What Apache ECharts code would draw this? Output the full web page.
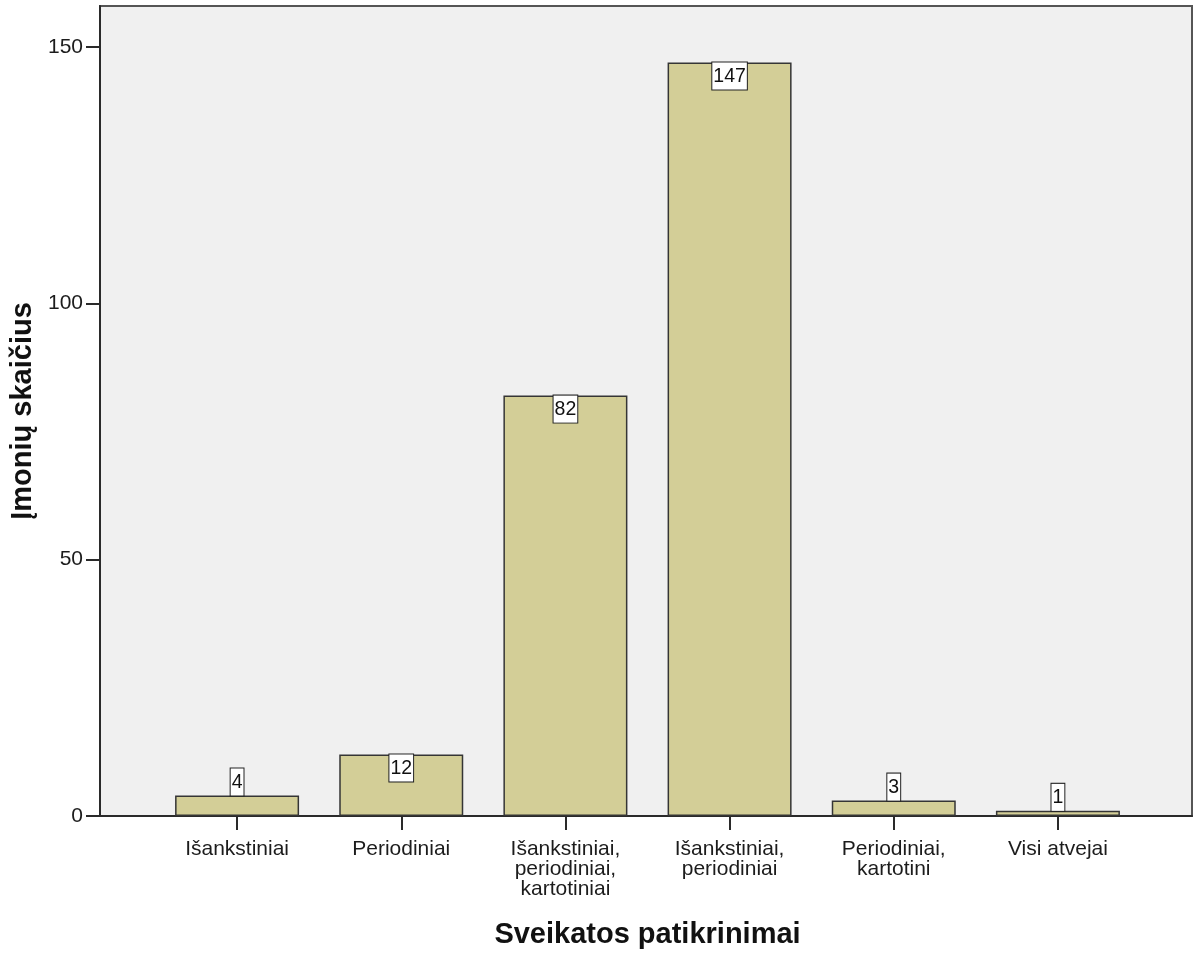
<!DOCTYPE html>
<html>
<head>
<meta charset="utf-8">
<script src="https://cdn.jsdelivr.net/npm/echarts@6/dist/echarts.min.js"></script>
<style>
  html, body { margin: 0; padding: 0; background: #ffffff; }
  #chart { width: 1201px; height: 956px; }
</style>
</head>
<body>
<div id="chart"></div>
<script>
// Health check types and number of companies
const categories = [
  'Išankstiniai',
  'Periodiniai',
  'Išankstiniai,\nperiodiniai,\nkartotiniai',
  'Išankstiniai,\nperiodiniai',
  'Periodiniai,\nkartotini',
  'Visi atvejai'
];
const counts = [4, 12, 82, 147, 3, 1];
const yTicks = [0, 50, 100, 150];
const xTitle = 'Sveikatos patikrinimai';
const yTitle = 'Įmonių skaičius';

const FONT = '"Liberation Sans", Arial, sans-serif';
const Y_MAX = 158;

const chart = echarts.init(document.getElementById('chart'), null, { renderer: 'canvas' });

// tall bars carry their label inside the top edge, short ones just above it
const barData = counts.map(v => ({
  value: v,
  label: { position: v >= 10 ? 'insideTop' : 'top' }
}));

chart.setOption({
  animation: false,
  backgroundColor: '#ffffff',
  grid: [
    // frame, background and the value axis
    { left: 100, right: 9, top: 6, bottom: 140, show: true,
      backgroundColor: '#f0f0f0', borderColor: '#555555', borderWidth: 2 },
    // category band holding the bars
    { left: 155, right: 61, top: 6, bottom: 140, show: false }
  ],
  xAxis: [
    { gridIndex: 0, type: 'value', min: 0, max: 1,
      axisLine: { show: true, onZero: false, lineStyle: { color: '#2a2a2a', width: 2 } },
      axisTick: { show: false }, axisLabel: { show: false }, splitLine: { show: false } },
    { gridIndex: 1, type: 'category', data: categories,
      axisLine: { show: false },
      axisTick: { show: true, alignWithLabel: true, length: 14, inside: false,
        lineStyle: { color: '#2a2a2a', width: 2 } },
      axisLabel: { interval: 0, margin: 23, fontFamily: FONT, fontSize: 21,
        color: '#1c1c1c', lineHeight: 20 },
      name: xTitle, nameLocation: 'middle', nameGap: 104,
      nameTextStyle: { fontFamily: FONT, fontSize: 29, fontWeight: 'bold', color: '#111111' }
    }
  ],
  yAxis: [
    { gridIndex: 0, type: 'value', min: 0, max: Y_MAX,
      axisLine: { show: true, onZero: false, lineStyle: { color: '#2a2a2a', width: 2 } },
      axisTick: { show: true, length: 14, customValues: yTicks,
        lineStyle: { color: '#2a2a2a', width: 2 } },
      axisLabel: { customValues: yTicks, margin: 17, fontFamily: FONT, fontSize: 21,
        color: '#1c1c1c' },
      splitLine: { show: false },
      name: yTitle, nameLocation: 'middle', nameRotate: 90, nameGap: 58,
      nameTextStyle: { fontFamily: FONT, fontSize: 29, fontWeight: 'bold', color: '#111111' }
    },
    { gridIndex: 1, type: 'value', min: 0, max: Y_MAX, show: false }
  ],
  series: [{
    type: 'bar',
    xAxisIndex: 1,
    yAxisIndex: 1,
    data: barData,
    barWidth: 124,
    itemStyle: { color: '#d3ce97', borderColor: '#353535', borderWidth: 1.5 },
    label: {
      show: true,
      distance: 0,
      fontFamily: FONT,
      fontSize: 19.5,
      color: '#111111',
      backgroundColor: '#ffffff',
      borderColor: '#222222',
      borderWidth: 1,
      padding: [4, 1, 3, 1],
      lineHeight: 20
    }
  }]
});
</script>
</body>
</html>
